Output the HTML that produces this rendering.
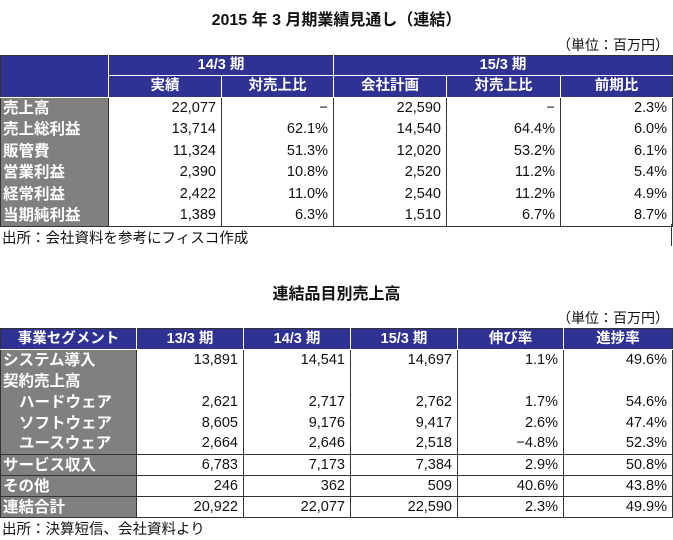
<!DOCTYPE html>
<html><head><meta charset="utf-8"><style>
*{margin:0;padding:0;box-sizing:border-box}
body{width:673px;height:540px;background:#fff;position:relative;overflow:hidden;font-family:"Liberation Sans","Noto Sans CJK JP",sans-serif;color:#111}
.t{position:absolute;font-weight:bold;font-size:16px;white-space:nowrap}
.u{position:absolute;right:4px;font-size:14px}
.f{position:absolute;left:2px;font-size:14.5px}
table{position:absolute;left:0;border-collapse:collapse;table-layout:fixed;font-size:14.5px}
td{height:21px;padding:0 5px;white-space:nowrap;text-align:right;line-height:19px}
.h{background:#2f3193;color:#fff;font-weight:bold;text-align:center;border:1px solid #fff}
.l{background:#808080;color:#fff;font-weight:bold;text-align:left;padding-left:2px;font-size:15.5px}
.d{border-left:1px solid #333;border-right:1px solid #333}
.bt td{border-top:1px solid #333}
.t1 td{height:21.6px}
</style></head><body>
<div class="t" style="left:0;width:673px;text-align:center;top:6px">2015 年 3 月期業績見通し（連結）</div>
<div class="u" style="top:35px">（単位：百万円）</div>
<table class="t1" style="top:55px;width:672px;border:1px solid #333">
<colgroup><col style="width:108px"><col style="width:113px"><col style="width:112px"><col style="width:113px"><col style="width:114px"><col style="width:112px"></colgroup>
<tr><td class="h" rowspan="2" style="border-left:none;border-top:none"></td><td class="h" colspan="2" style="height:20px;border-top:none">14/3 期</td><td class="h" colspan="3" style="height:20px;border-top:none;border-right:none">15/3 期</td></tr>
<tr><td class="h">実績</td><td class="h">対売上比</td><td class="h">会社計画</td><td class="h">対売上比</td><td class="h" style="border-right:none">前期比</td></tr>
<tr><td class="l">売上高</td><td class="d">22,077</td><td class="d">−</td><td class="d">22,590</td><td class="d">−</td><td class="d">2.3%</td></tr>
<tr><td class="l">売上総利益</td><td class="d">13,714</td><td class="d">62.1%</td><td class="d">14,540</td><td class="d">64.4%</td><td class="d">6.0%</td></tr>
<tr><td class="l">販管費</td><td class="d">11,324</td><td class="d">51.3%</td><td class="d">12,020</td><td class="d">53.2%</td><td class="d">6.1%</td></tr>
<tr><td class="l">営業利益</td><td class="d">2,390</td><td class="d">10.8%</td><td class="d">2,520</td><td class="d">11.2%</td><td class="d">5.4%</td></tr>
<tr><td class="l">経常利益</td><td class="d">2,422</td><td class="d">11.0%</td><td class="d">2,540</td><td class="d">11.2%</td><td class="d">4.9%</td></tr>
<tr><td class="l">当期純利益</td><td class="d">1,389</td><td class="d">6.3%</td><td class="d">1,510</td><td class="d">6.7%</td><td class="d">8.7%</td></tr>
</table>
<div style="position:absolute;left:671px;top:224px;width:1px;height:22px;background:#333"></div>
<div class="f" style="top:227px">出所：会社資料を参考にフィスコ作成</div>

<div class="t" style="left:0;width:673px;text-align:center;top:280px">連結品目別売上高</div>
<div class="u" style="top:308px">（単位：百万円）</div>
<table style="top:328px;width:672px;border:1px solid #333">
<colgroup><col style="width:136px"><col style="width:107px"><col style="width:107px"><col style="width:107px"><col style="width:106px"><col style="width:109px"></colgroup>
<tr><td class="h" style="border-left:none;border-top:none">事業セグメント</td><td class="h" style="border-top:none">13/3 期</td><td class="h" style="border-top:none">14/3 期</td><td class="h" style="border-top:none">15/3 期</td><td class="h" style="border-top:none">伸び率</td><td class="h" style="border-top:none;border-right:none">進捗率</td></tr>
<tr><td class="l">システム導入</td><td class="d">13,891</td><td class="d">14,541</td><td class="d">14,697</td><td class="d">1.1%</td><td class="d">49.6%</td></tr>
<tr><td class="l">契約売上高</td><td class="d"></td><td class="d"></td><td class="d"></td><td class="d"></td><td class="d"></td></tr>
<tr><td class="l" style="padding-left:18px">ハードウェア</td><td class="d">2,621</td><td class="d">2,717</td><td class="d">2,762</td><td class="d">1.7%</td><td class="d">54.6%</td></tr>
<tr><td class="l" style="padding-left:18px">ソフトウェア</td><td class="d">8,605</td><td class="d">9,176</td><td class="d">9,417</td><td class="d">2.6%</td><td class="d">47.4%</td></tr>
<tr><td class="l" style="padding-left:18px;height:20px">ユースウェア</td><td class="d">2,664</td><td class="d">2,646</td><td class="d">2,518</td><td class="d">−4.8%</td><td class="d">52.3%</td></tr>
<tr class="bt"><td class="l">サービス収入</td><td class="d">6,783</td><td class="d">7,173</td><td class="d">7,384</td><td class="d">2.9%</td><td class="d">50.8%</td></tr>
<tr class="bt"><td class="l">その他</td><td class="d">246</td><td class="d">362</td><td class="d">509</td><td class="d">40.6%</td><td class="d">43.8%</td></tr>
<tr class="bt"><td class="l">連結合計</td><td class="d">20,922</td><td class="d">22,077</td><td class="d">22,590</td><td class="d">2.3%</td><td class="d">49.9%</td></tr>
</table>
<div class="f" style="top:518px">出所：決算短信、会社資料より</div>
</body></html>
